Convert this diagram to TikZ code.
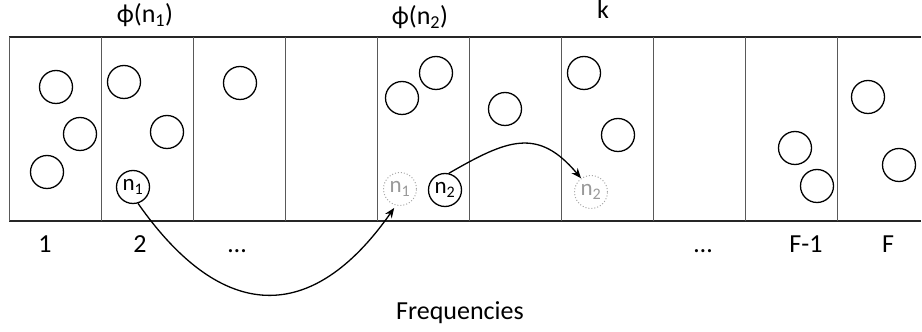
\documentclass[tikz,border=0pt]{standalone}
\usepackage{fontspec}
\setmainfont{Carlito}
\usetikzlibrary{positioning,arrows.meta}
\tikzset{
  bin/.style={minimum width=92pt,minimum height=184pt,inner sep=0pt,outer sep=0pt},
  binline/.style={black!65,line width=1pt},
  frame/.style={black!85,line width=1.3pt},
  obs/.style={circle,draw,line width=1.3pt,minimum size=33pt,inner sep=0pt,
              font=\fontsize{23}{23}\selectfont},
  ghost/.style={obs,draw=black!35,line width=1pt,dotted,text=black!40},
  hop/.style={-{Stealth[length=10pt,width=8pt]},line width=1.3pt},
  binlabel/.style={anchor=base,font=\fontsize{26}{28}\selectfont},
}

\begin{document}
\begin{tikzpicture}[x=1pt,y=1pt,node distance=0pt]
  \useasboundingbox (0,0) rectangle (922,332);
  % frequency bins
  \node[bin,anchor=north west] (f1) at (9,295) {};
  \node[bin,right=of f1] (f2) {};
  \node[bin,right=of f2] (f3) {};
  \node[bin,right=of f3] (f4) {};
  \node[bin,right=of f4] (f5) {};
  \node[bin,right=of f5] (f6) {};
  \node[bin,right=of f6] (f7) {};
  \node[bin,right=of f7] (f8) {};
  \node[bin,right=of f8] (f9) {};
  \node[bin,right=of f9,minimum width=84pt] (f10) {};
  \draw[frame] (f1.north west) -- (f10.north east);
  \draw[frame] (f1.south west) -- (f10.south east);
  \draw[binline] (f1.north west) -- (f1.south west);
  \foreach \i in {1,...,9}
    \draw[binline] (f\i.north east) -- (f\i.south east);

  % nodes in each bin
  \node[obs] (a1) at (56,245) {};
  \node[obs] (a2) at (80,198) {};
  \node[obs] (a3) at (47,160) {};
  \node[obs] (b1) at (124,250) {};
  \node[obs] (b2) at (167,200) {};
  \node[obs] (n1) at (133,145) {n\textsubscript{1}};
  \node[obs] (c1) at (240,249) {};
  \node[obs] (e1) at (402,234) {};
  \node[obs] (e2) at (436,259) {};
  \node[ghost] (g1) at (400,143) {n\textsubscript{1}};
  \node[obs] (n2) at (445,142) {n\textsubscript{2}};
  \node[obs] (h1) at (505,223) {};
  \node[obs] (k1) at (584,259) {};
  \node[obs] (k2) at (618,197) {};
  \node[ghost] (g2) at (591,140) {n\textsubscript{2}};
  \node[obs] (p1) at (795,184) {};
  \node[obs] (p2) at (817,146) {};
  \node[obs] (q1) at (868,235) {};
  \node[obs] (q2) at (899,167) {};

  % moves
  \draw[hop,shorten >=3pt] (n1.-73) to[out=-55,in=-125,looseness=1.45] (g1.-104);
  \draw[hop] (n2.77) to[out=30,in=130,looseness=1.3] (g2.126);

  % labels
  \node[binlabel] (phi1) at (145,309) {ϕ(n\textsubscript{1})};
  \node[binlabel] (phi2) at (420,307) {ϕ(n\textsubscript{2})};
  \node[binlabel] (kk) at (603,313) {k};
  \node[binlabel] (l1) at (45,79) {1};
  \node[binlabel] (l2) at (140,79) {2};
  \node[binlabel] (l3) at (237,79) {…};
  \node[binlabel] (l8) at (703,79) {…};
  \node[binlabel] (l9) at (806,79) {F-1};
  \node[binlabel] (l10) at (888,79) {F};
  \node[binlabel] (freq) at (460,12) {Frequencies};
\end{tikzpicture}
\end{document}
